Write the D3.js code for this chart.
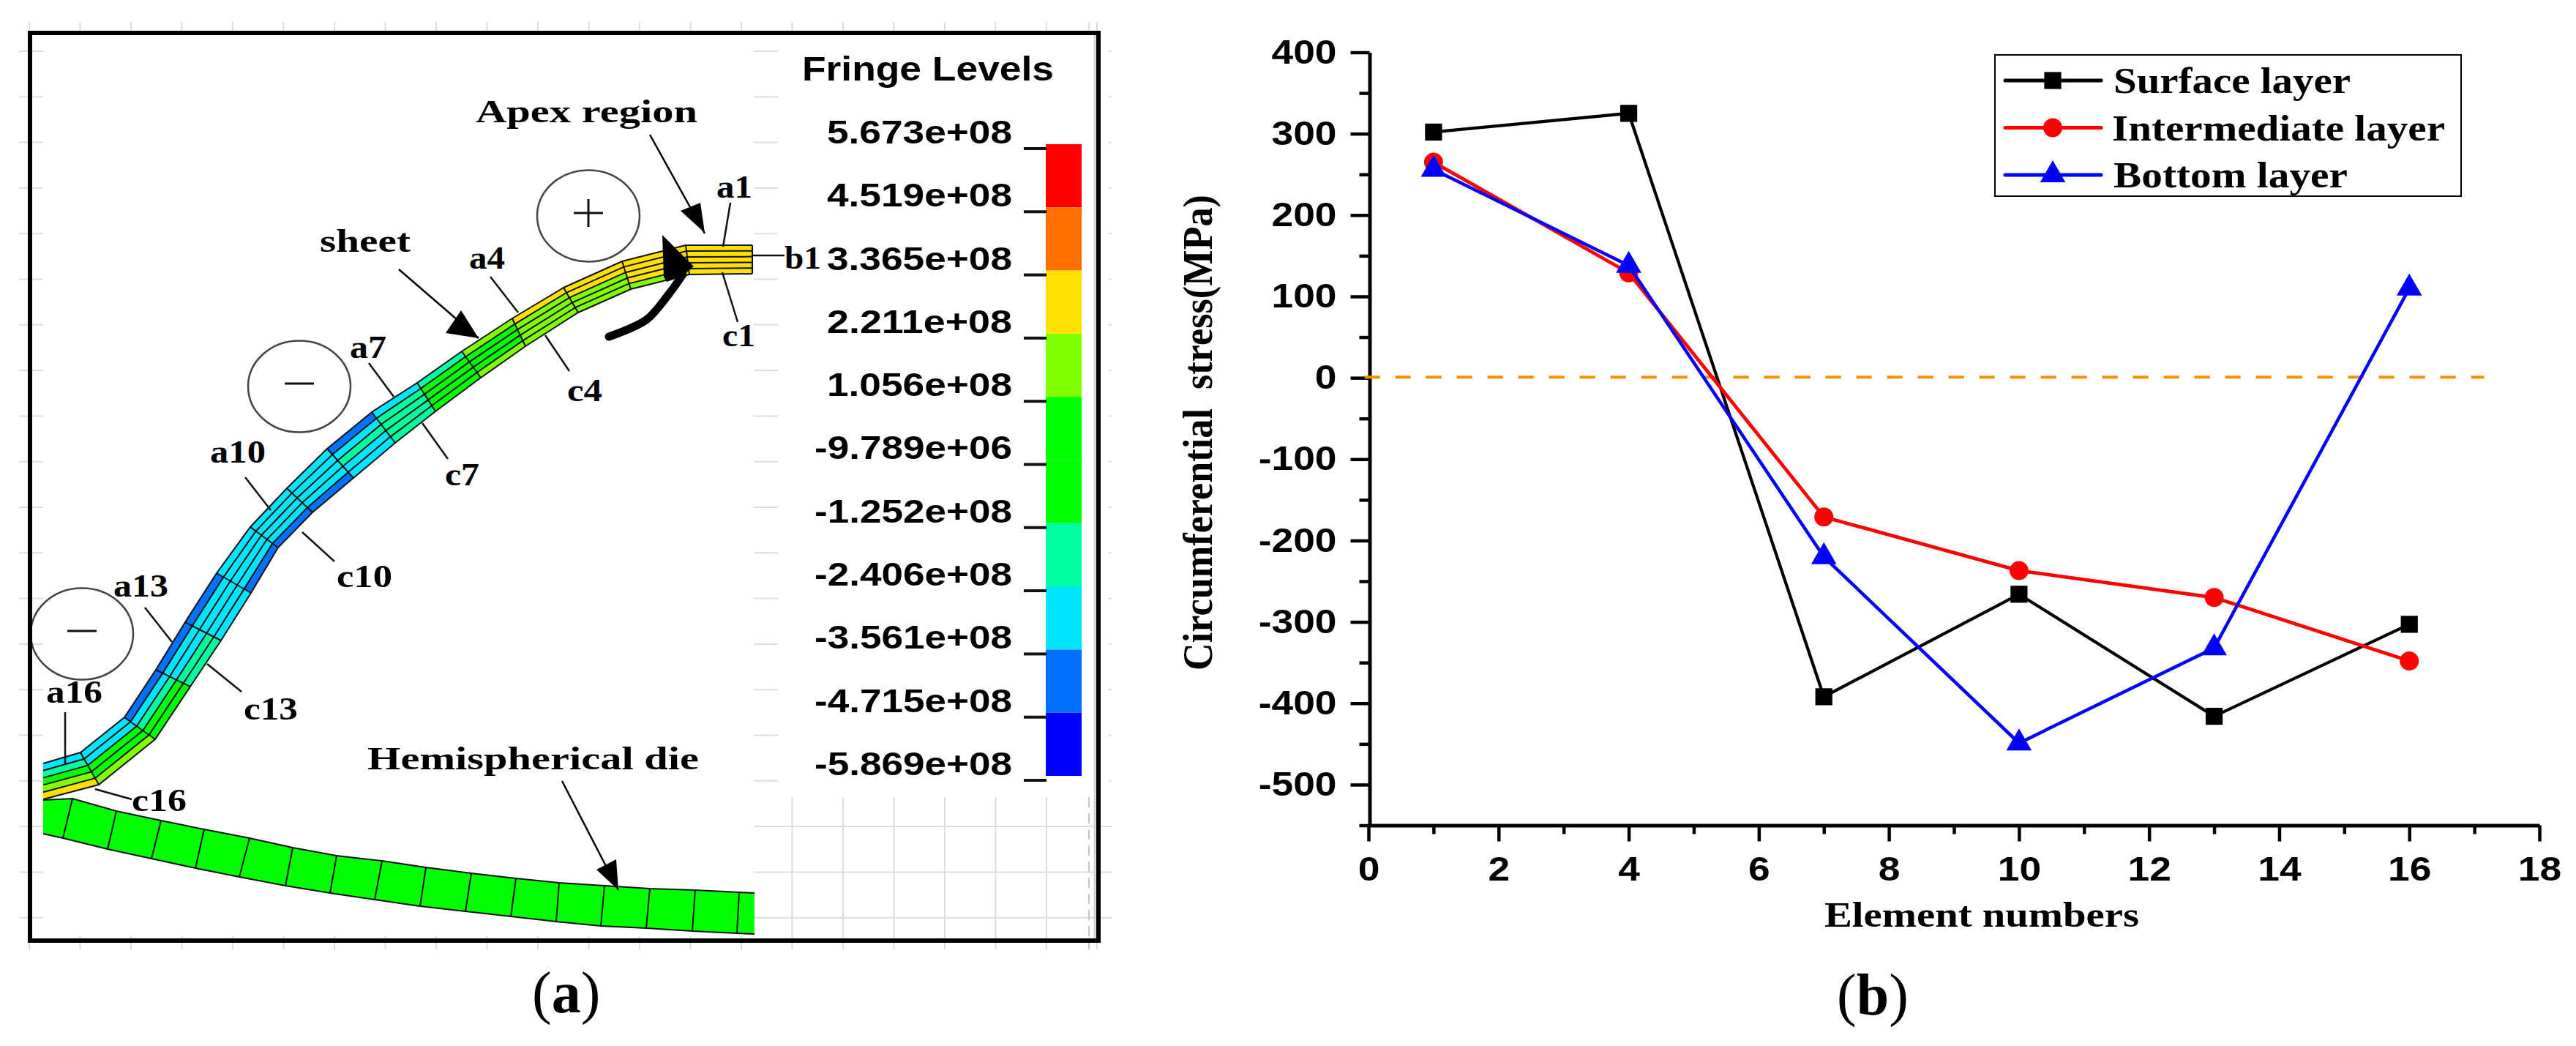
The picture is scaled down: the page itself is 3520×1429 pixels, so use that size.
<!DOCTYPE html>
<html lang="en">
<head>
<meta charset="UTF-8">
<title>Fringe levels and circumferential stress</title>
<script src="https://d3js.org/d3.v7.min.js"></script>
<style>
  html, body { margin: 0; background: #fff; }
  svg { display: block; }
  text { white-space: pre; }
</style>
</head>
<body>
<div id="chart"></div>
<script>
// ---- panel (b) data
const elementNumbers = [1, 4, 7, 10, 13, 16];
const surfaceLayer = [302, 325, -392, -266, -416, -303];
const intermediateLayer = [265, 129, -171, -237, -270, -348];
const bottomLayer = [256, 138, -220, -449, -332, 110];
const xMajorTicks = [0, 2, 4, 6, 8, 10, 12, 14, 16, 18];
const xMinorTicks = [1, 3, 5, 7, 9, 11, 13, 15, 17];
const yMajorTicks = [400, 300, 200, 100, 0, -100, -200, -300, -400, -500];
const yMinorTicks = [350, 250, 150, 50, -50, -150, -250, -350, -450, -550];
const zeroLineX = [-0.06, 17.15];
const seriesNames = ["Surface layer", "Intermediate layer", "Bottom layer"];

// ---- panel (a) data: fringe levels, then mesh (model units)
const fringeLevels = [5.673e8, 4.519e8, 3.365e8, 2.211e8, 1.056e8, -9.789e6, -1.252e8, -2.406e8, -3.561e8, -4.715e8, -5.869e8];
const fringeLabels = ["5.673e+08", "4.519e+08", "3.365e+08", "2.211e+08", "1.056e+08", "-9.789e+06", "-1.252e+08", "-2.406e+08", "-3.561e+08", "-4.715e+08", "-5.869e+08"];
const fringeColors = ["#ff0000", "#ff7000", "#ffe000", "#7fff00", "#00ff00", "#00ff00", "#00ffa0", "#00e5ff", "#0070ff", "#0000ff"];

const sheetTopX = [987, 896, 809, 729, 659, 590, 529, 467, 406, 351, 301, 255, 212, 172, 129, 69, 18];
const sheetTopY = [290, 290, 312, 348, 390, 435, 478, 518, 568, 622, 675, 738, 805, 870, 935, 983, 998];
const sheetBottomX = [987, 901, 821, 749, 677, 616, 554, 499, 442, 386, 339, 302, 261, 219, 171, 94, 18];
const sheetBottomY = [329, 330, 350, 382, 428, 471, 517, 560, 608, 655, 703, 765, 830, 893, 965, 1027, 1047];
// fringe band of each of the 5 layers in each of the 16 elements, top layer first
const sheetBands = [
  [2, 2, 2, 2, 2], [2, 2, 2, 2, 3], [2, 2, 3, 3, 3], [2, 3, 3, 3, 3],
  [3, 4, 4, 4, 3], [6, 4, 4, 4, 4], [7, 6, 6, 6, 6], [8, 7, 6, 7, 7],
  [7, 7, 7, 7, 8], [7, 7, 7, 7, 8], [7, 7, 7, 7, 8], [8, 7, 7, 7, 7],
  [8, 7, 7, 6, 6], [8, 7, 6, 4, 4], [7, 7, 4, 4, 3], [7, 6, 4, 3, 2]
];
const dieTopX = [18, 58, 118, 179, 238, 300, 359, 419, 481, 541, 603, 664, 723, 785, 847, 909, 969, 990];
const dieTopY = [1048, 1046, 1063, 1076, 1088, 1100, 1113, 1124, 1131, 1140, 1148, 1155, 1161, 1165, 1169, 1171, 1174, 1175];
const dieBottomX = [18, 45, 106, 166, 226, 286, 349, 410, 471, 533, 595, 657, 719, 780, 842, 905, 966, 990];
const dieBottomY = [1094, 1100, 1115, 1128, 1141, 1153, 1165, 1175, 1184, 1193, 1200, 1207, 1214, 1220, 1223, 1227, 1230, 1231];

// name, x, baseline, width
const annotations = [
  ["Apex region", 609, 122, 303], ["sheet", 396, 299, 124], ["a1", 938, 225, 49],
  ["b1", 1031, 322, 50], ["c1", 946, 428, 45], ["a4", 600, 322, 49], ["c4", 734, 503, 48],
  ["a7", 437, 444, 50], ["c7", 567, 618, 47], ["a10", 246, 587, 76], ["c10", 419, 757, 76],
  ["a13", 114, 770, 75], ["c13", 292, 938, 74], ["a16", 22, 915, 77], ["c16", 139, 1063, 75],
  ["Hemispherical die", 461, 1006, 453]
];
const leaders = [
  [957, 232, 947, 292], [946, 327, 967, 395], [988, 304, 1031, 304], [629, 333, 667, 382],
  [704, 413, 737, 462], [463, 451, 497, 497], [536, 533, 571, 582], [294, 607, 329, 652],
  [372, 682, 416, 722], [157, 785, 194, 832], [242, 862, 289, 900], [48, 928, 48, 1000],
  [89, 1033, 139, 1047]
];
const arrows = [
  { line: [847, 139, 922, 274], head: [[889, 243], [916, 232], [922, 273]] },
  { line: [504, 323, 613, 417], head: [[568, 410], [589, 379], [613, 417]] },
  { line: [727, 1022, 804, 1171], head: [[774, 1143], [801, 1129], [804, 1171]] }
];
const bentArrowPath = [[791, 415], [842, 392], [872, 358], [892, 330]];
const bentArrowHead = [[864, 276], [907, 319], [890, 333], [870, 340], [866, 333]];
const zoneMarks = [
  { x: 763, y: 250, sign: "+" }, { x: 368, y: 483, sign: "-" }, { x: 71, y: 821, sign: "-" }
];

// ---- page
const svg = d3.select("#chart").append("svg").attr("width", 3520).attr("height", 1429);
const serif = "'Liberation Serif', serif";
const sans = "'Liberation Sans', sans-serif";

function label(parent, str, x, y, size, width, family, anchor) {
  const t = parent.append("text")
    .attr("x", x).attr("y", y)
    .attr("font-family", family).attr("font-weight", "bold").attr("font-size", size)
    .attr("text-anchor", anchor || "start").attr("fill", "#000")
    .text(str);
  if (width) t.attr("textLength", width).attr("lengthAdjust", "spacingAndGlyphs");
  return t;
}

// ---- panel (a)
const mx = d3.scaleLinear().domain([0, 1460]).range([41, 1501]);
const my = d3.scaleLinear().domain([0, 1240]).range([45, 1285]);
const panelA = svg.append("g");
const poly = d3.line().x(d => mx(d[0])).y(d => my(d[1]));

// background grid of the solver window
const grid = panelA.append("g").attr("stroke", "#dcdcdc").attr("stroke-width", 2).attr("fill", "none");
function seg(g, x1, y1, x2, y2) {
  return g.append("line").attr("x1", mx(x1)).attr("y1", my(y1)).attr("x2", mx(x2)).attr("y2", my(y2));
}
d3.range(20).forEach(k => {
  const gy = 25 + 62.3 * k;
  seg(grid, -15, gy, 18, gy);
  if (k < 17) {
    seg(grid, 989, gy, 1022, gy);
    seg(grid, 1474, gy, 1478, gy);
  } else {
    seg(grid, 989, gy, 1478, gy);
  }
});
d3.range(21).forEach(k => {
  const gx = -1 + 69.5 * k;
  seg(grid, gx, -15, gx, -3);
  if (k >= 15) seg(grid, gx, 1044, gx, 1252);
  else seg(grid, gx, 1234, gx, 1252);
});
seg(grid, 1447, -15, 1447, -3);
seg(grid, 1458, -15, 1458, -3);
seg(grid, 1458, 1234, 1458, 1252);
seg(grid, 1447, 1044, 1447, 1252).attr("stroke", "#c4c4c4").attr("stroke-dasharray", "14 8");

// die
const dieG = panelA.append("g");
dieG.append("path")
  .attr("d", poly(dieTopX.map((x, i) => [x, dieTopY[i]]).concat(dieBottomX.map((x, i) => [x, dieBottomY[i]]).reverse())) + "Z")
  .attr("fill", "#00ff00");
dieG.append("path").attr("d", poly(dieTopX.map((x, i) => [x, dieTopY[i]])))
  .attr("fill", "none").attr("stroke", "#111").attr("stroke-width", 2);
dieG.append("path").attr("d", poly(dieBottomX.map((x, i) => [x, dieBottomY[i]])))
  .attr("fill", "none").attr("stroke", "#111").attr("stroke-width", 2);
dieG.selectAll("line").data(d3.range(1, dieTopX.length - 1)).join("line")
  .attr("x1", i => mx(dieTopX[i])).attr("y1", i => my(dieTopY[i]))
  .attr("x2", i => mx(dieBottomX[i])).attr("y2", i => my(dieBottomY[i]))
  .attr("stroke", "#111").attr("stroke-width", 2);

// sheet
function sheetPoint(node, t) {
  return [
    d3.interpolateNumber(sheetTopX[node], sheetBottomX[node])(t),
    d3.interpolateNumber(sheetTopY[node], sheetBottomY[node])(t)
  ];
}
const sheetG = panelA.append("g");
sheetBands.forEach((bands, el) => {
  bands.forEach((band, layer) => {
    const t0 = layer / 5, t1 = (layer + 1) / 5;
    sheetG.append("path")
      .attr("d", poly([sheetPoint(el, t0), sheetPoint(el + 1, t0), sheetPoint(el + 1, t1), sheetPoint(el, t1)]) + "Z")
      .attr("fill", fringeColors[band])
      .attr("stroke", fringeColors[band]).attr("stroke-width", 0.5);
  });
});
d3.range(6).forEach(layer => {
  sheetG.append("path")
    .attr("d", poly(sheetTopX.map((x, node) => sheetPoint(node, layer / 5))))
    .attr("fill", "none").attr("stroke", "#111").attr("stroke-width", 2);
});
sheetTopX.forEach((x, node) => {
  if (node === 0 || node === sheetTopX.length - 1) return;
  sheetG.append("path").attr("d", poly([sheetPoint(node, 0), sheetPoint(node, 1)]))
    .attr("fill", "none").attr("stroke", "#111").attr("stroke-width", 2);
});
sheetG.append("path").attr("d", poly([sheetPoint(0, 0), sheetPoint(0, 1)]))
  .attr("fill", "none").attr("stroke", "#111").attr("stroke-width", 2);

// annotations
const noteG = panelA.append("g");
leaders.forEach(d => seg(noteG, d[0], d[1], d[2], d[3]).attr("stroke", "#111").attr("stroke-width", 2.5));
arrows.forEach(a => {
  seg(noteG, a.line[0], a.line[1], a.line[2], a.line[3]).attr("stroke", "#000").attr("stroke-width", 2.5);
  noteG.append("path").attr("d", poly(a.head) + "Z").attr("fill", "#000");
});
noteG.append("path")
  .attr("d", d3.line().x(d => mx(d[0])).y(d => my(d[1])).curve(d3.curveCatmullRom)(bentArrowPath))
  .attr("fill", "none").attr("stroke", "#000").attr("stroke-width", 11).attr("stroke-linecap", "round");
noteG.append("path").attr("d", poly(bentArrowHead) + "Z").attr("fill", "#000");

zoneMarks.forEach(z => {
  noteG.append("ellipse").attr("cx", mx(z.x)).attr("cy", my(z.y)).attr("rx", 70).attr("ry", 62.5)
    .attr("fill", "none").attr("stroke", "#444").attr("stroke-width", 2.5);
  seg(noteG, z.x - 20, z.y - 4, z.x + 20, z.y - 4).attr("stroke", "#111").attr("stroke-width", 3);
  if (z.sign === "+") seg(noteG, z.x, z.y - 23, z.x, z.y + 15).attr("stroke", "#111").attr("stroke-width", 3);
});
annotations.forEach(d => label(noteG, d[0], mx(d[1]), my(d[2]), 45, d[3], serif));

// fringe colour bar
const fringeY = d3.scaleLinear().domain([fringeLevels[0], fringeLevels[10]]).range([197, 1060]);
const barG = panelA.append("g");
fringeColors.forEach((c, i) => {
  barG.append("rect").attr("x", 1429).attr("width", 49)
    .attr("y", fringeY(fringeLevels[i]))
    .attr("height", fringeY(fringeLevels[i + 1]) - fringeY(fringeLevels[i]))
    .attr("fill", c);
});
fringeLevels.forEach((v, i) => {
  barG.append("line").attr("x1", 1399).attr("x2", 1430)
    .attr("y1", fringeY(v) + 6).attr("y2", fringeY(v) + 6)
    .attr("stroke", "#111").attr("stroke-width", 4);
  label(barG, fringeLabels[i], 1383, fringeY(v) - 1, 45, fringeLabels[i][0] === "-" ? 270 : 253, sans, "end");
});
label(barG, "Fringe Levels", 1096, 110, 47, 344, sans);

// frame
seg(panelA, 1455, 0, 1455, 1240).attr("stroke", "#cfcfcf").attr("stroke-width", 3);
panelA.append("rect").attr("x", mx(0)).attr("y", my(0)).attr("width", 1460).attr("height", 1240)
  .attr("fill", "none").attr("stroke", "#000").attr("stroke-width", 6);

// ---- panel (b)
const x = d3.scaleLinear().domain([0, 18]).range([1870, 3470]);
const y = d3.scaleLinear().domain([400, -550]).range([71.5, 1127.5]);
const panelB = svg.append("g");

function styleAxis(g) {
  g.select(".domain").attr("stroke", "#000").attr("stroke-width", 5);
  g.selectAll(".tick line").attr("stroke", "#000").attr("stroke-width", 4.5);
}
function stretchTicks(g) {
  g.selectAll(".tick text")
    .attr("font-family", sans).attr("font-weight", "bold").attr("font-size", 47).attr("fill", "#000")
    .each(function () {
      d3.select(this).attr("textLength", this.getComputedTextLength() * 1.135)
        .attr("lengthAdjust", "spacingAndGlyphs");
    });
}

const yMinor = panelB.append("g").attr("transform", "translate(1871.5,0)")
  .call(d3.axisLeft(y).tickValues(yMinorTicks).tickSize(14).tickFormat(""));
yMinor.select(".domain").remove();
yMinor.selectAll(".tick line").attr("stroke", "#000").attr("stroke-width", 4.5);

// plain hyphen on the negative labels, as in the figure
const yAxis = panelB.append("g").attr("transform", "translate(1871.5,0)")
  .call(d3.axisLeft(y).tickValues(yMajorTicks).tickSize(26).tickSizeOuter(0).tickPadding(19).tickFormat(String));
styleAxis(yAxis);
stretchTicks(yAxis);
yAxis.selectAll(".tick text").attr("dy", "0.31em");

const xMinor = panelB.append("g").attr("transform", "translate(0,1127.5)")
  .call(d3.axisBottom(x).tickValues(xMinorTicks).tickSize(12).tickFormat(""));
xMinor.select(".domain").remove();
xMinor.selectAll(".tick line").attr("stroke", "#000").attr("stroke-width", 4.5);

const xAxis = panelB.append("g").attr("transform", "translate(0,1127.5)")
  .call(d3.axisBottom(x).tickValues(xMajorTicks).tickSize(22).tickSizeOuter(0).tickPadding(20).tickFormat(String));
styleAxis(xAxis);
stretchTicks(xAxis);

// zero reference
panelB.append("line")
  .attr("x1", x(zeroLineX[0])).attr("x2", x(zeroLineX[1])).attr("y1", y(0) - 1).attr("y2", y(0) - 1)
  .attr("stroke", "#ff8c00").attr("stroke-width", 4).attr("stroke-dasharray", "21 21");

const seriesValues = [surfaceLayer, intermediateLayer, bottomLayer];
const seriesColors = ["#000000", "#ff0000", "#0000ff"];
const seriesWidths = [4.2, 4.8, 4.5];
const seriesSymbols = [
  d3.symbol().type(d3.symbolSquare).size(540),
  d3.symbol().type(d3.symbolCircle).size(530),
  d3.symbol().type(d3.symbolTriangle).size(520)
];
const lineGen = d3.line().x((d, i) => x(elementNumbers[i])).y(d => y(d));

seriesValues.forEach((values, s) => {
  const g = panelB.append("g");
  g.append("path").attr("d", lineGen(values))
    .attr("fill", "none").attr("stroke", seriesColors[s]).attr("stroke-width", seriesWidths[s]);
  g.selectAll("path.mark").data(values).join("path").attr("class", "mark")
    .attr("d", seriesSymbols[s]())
    .attr("transform", (d, i) => `translate(${x(elementNumbers[i])},${y(d)})`)
    .attr("fill", seriesColors[s]);
});

// legend
const legend = panelB.append("g");
legend.append("rect").attr("x", 2726).attr("y", 75).attr("width", 637).attr("height", 193)
  .attr("fill", "#fff").attr("stroke", "#000").attr("stroke-width", 2);
const legendRowY = [110, 174.5, 239];
const legendTextX = [2888, 2886, 2888];
const legendTextW = [324, 455, 320];
seriesNames.forEach((name, s) => {
  legend.append("line").attr("x1", 2740).attr("x2", 2871)
    .attr("y1", legendRowY[s]).attr("y2", legendRowY[s])
    .attr("stroke", seriesColors[s]).attr("stroke-width", 5).attr("stroke-linecap", "round");
  legend.append("path").attr("d", seriesSymbols[s]())
    .attr("transform", `translate(2805,${legendRowY[s]})`).attr("fill", seriesColors[s]);
  label(legend, name, legendTextX[s], legendRowY[s] + 17, 50, legendTextW[s], serif);
});

// axis titles and panel letters
label(panelB, "Element numbers", 2493, 1266, 48, 430, serif);
label(panelB, "Circumferential  stress(MPa)", 0, 0, 58, 650, serif)
  .attr("transform", "translate(1656,916) rotate(-90)");

function panelLetter(letter, px, py) {
  const t = svg.append("text").attr("x", px).attr("y", py)
    .attr("font-family", serif).attr("font-size", 80).attr("fill", "#000");
  t.append("tspan").text("(");
  t.append("tspan").attr("font-weight", "bold").text(letter);
  t.append("tspan").text(")");
}
panelLetter("a", 727, 1383);
panelLetter("b", 2510, 1386);
</script>
</body>
</html>
